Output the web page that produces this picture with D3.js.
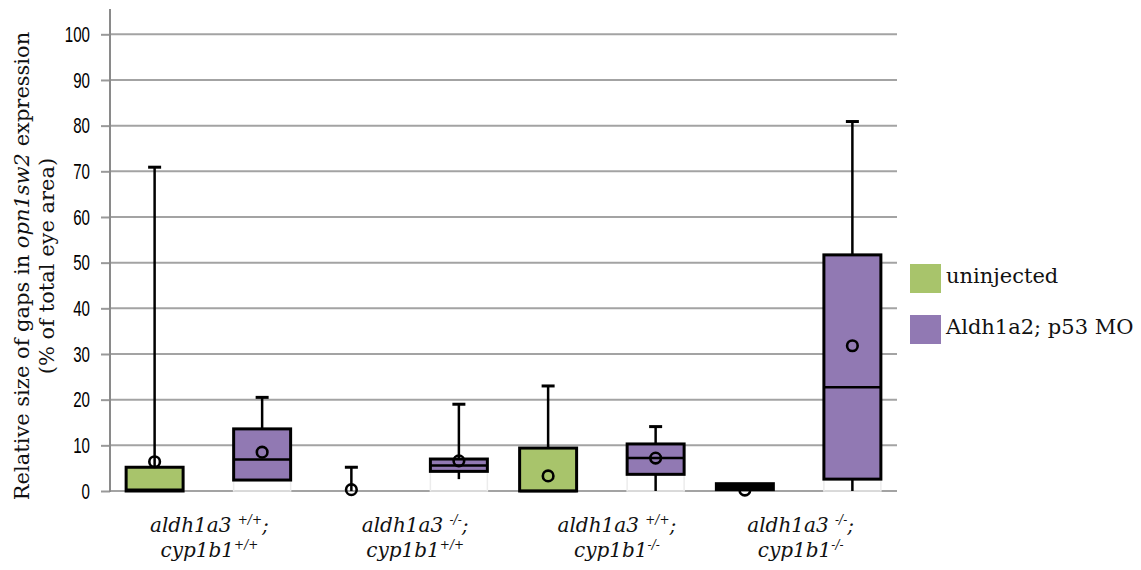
<!DOCTYPE html>
<html><head><meta charset="utf-8">
<script src="https://cdn.jsdelivr.net/npm/d3@7"></script>
<style>body{margin:0;background:#fff}svg{display:block}</style>
</head><body>
<svg id="chart" width="1141" height="570"></svg>
<script>
// ---- data ----
const categories = ["g1", "g2", "g3", "g4"];
const aldh1a3Genotype = ["+/+", "-/-", "+/+", "-/-"];
const cyp1b1Genotype = ["+/+", "+/+", "-/-", "-/-"];
const seriesNames = ["uninjected", "Aldh1a2; p53 MO"];
const yTicks = [0, 10, 20, 30, 40, 50, 60, 70, 80, 90, 100];

const uninjectedQ1 = [0, null, 0, 0.3];
const uninjectedMedian = [0.3, null, 0, 1.0];
const uninjectedQ3 = [5.2, null, 9.4, 1.6];
const uninjectedWhiskerLow = [null, null, null, null];
const uninjectedWhiskerHigh = [70.9, 5.2, 23.0, null];
const uninjectedMean = [6.4, 0.3, 3.3, 0.2];

const moQ1 = [2.4, 4.3, 3.65, 2.6];
const moMedian = [6.9, 5.6, 7.2, 22.7];
const moQ3 = [13.6, 7.0, 10.3, 51.7];
const moWhiskerLow = [null, 2.6, 0, 0];
const moWhiskerHigh = [20.5, 19.0, 14.1, 80.9];
const moMean = [8.5, 6.6, 7.2, 31.8];

// ---- layout ----
const svg = d3.select("#chart");
const colors = ["#a8c46b", "#9179b3"];
const plot = {left: 110, right: 897, top: 34.3, bottom: 491};

const y = d3.scaleLinear().domain([0, 100]).range([plot.bottom, plot.top]);
const x = d3.scaleBand().domain(categories).range([plot.left, plot.right]).paddingInner(0).paddingOuter(0);
const xs = d3.scaleBand().domain(seriesNames).range([0, x.bandwidth()]).paddingInner(0.47).paddingOuter(0.15);

// gridlines
svg.append("g").selectAll("line").data(yTicks).join("line")
  .attr("x1", plot.left).attr("x2", plot.right)
  .attr("y1", d => y(d)).attr("y2", d => y(d))
  .attr("stroke", "#a3a3a3").attr("stroke-width", 2);

// y axis
const yAxis = svg.append("g").attr("transform", `translate(${plot.left},0)`)
  .call(d3.axisLeft(y).tickValues(yTicks).tickSize(9).tickPadding(11));
yAxis.select(".domain").remove();
yAxis.selectAll(".tick line").attr("stroke", "#999").attr("stroke-width", 2);
yAxis.selectAll(".tick text")
  .attr("font-family", "'Liberation Sans', Arial, sans-serif")
  .attr("font-size", 22).attr("fill", "#000")
  .attr("textLength", d => String(d).length * 8.4)
  .attr("lengthAdjust", "spacingAndGlyphs");
svg.append("line").attr("x1", plot.left).attr("x2", plot.left)
  .attr("y1", 9).attr("y2", plot.bottom + 1)
  .attr("stroke", "#8a8a8a").attr("stroke-width", 2);

const series = [
  {name: seriesNames[0], q1: uninjectedQ1, med: uninjectedMedian, q3: uninjectedQ3, lo: uninjectedWhiskerLow, hi: uninjectedWhiskerHigh, mean: uninjectedMean, color: colors[0]},
  {name: seriesNames[1], q1: moQ1, med: moMedian, q3: moQ3, lo: moWhiskerLow, hi: moWhiskerHigh, mean: moMean, color: colors[1]}
];

const boxes = svg.append("g");
series.forEach((s, si) => {
  categories.forEach((c, i) => {
    const bx = x(c) + xs(s.name);
    const bw = xs.bandwidth();
    const cx = bx + bw / 2;
    const g = boxes.append("g");
    // faint base segment (stacked-bar remnant)
    if (s.q1[i] != null && s.q1[i] > 0.5) {
      g.append("rect").attr("x", bx).attr("y", y(s.q1[i])).attr("width", bw)
        .attr("height", y(0) - y(s.q1[i])).attr("fill", "none")
        .attr("stroke", "#ececec").attr("stroke-width", 1.5);
    }
    // whiskers
    const top = s.q3[i] != null ? s.q3[i] : 0;
    if (s.hi[i] != null) {
      g.append("line").attr("x1", cx).attr("x2", cx).attr("y1", y(top)).attr("y2", y(s.hi[i]))
        .attr("stroke", "#000").attr("stroke-width", 2.5);
      g.append("line").attr("x1", cx - 6.5).attr("x2", cx + 6.5).attr("y1", y(s.hi[i])).attr("y2", y(s.hi[i]))
        .attr("stroke", "#000").attr("stroke-width", 3);
    }
    if (s.lo[i] != null && s.q1[i] != null) {
      g.append("line").attr("x1", cx).attr("x2", cx).attr("y1", y(s.q1[i])).attr("y2", y(s.lo[i]))
        .attr("stroke", "#000").attr("stroke-width", 2.5);
    }
    // box
    if (s.q1[i] != null && s.q3[i] != null) {
      g.append("rect").attr("x", bx).attr("y", y(s.q3[i])).attr("width", bw)
        .attr("height", y(s.q1[i]) - y(s.q3[i]))
        .attr("fill", (y(s.q1[i]) - y(s.q3[i])) < 8 ? "#000" : s.color)
        .attr("stroke", "#000").attr("stroke-width", 3);
      g.append("line").attr("x1", bx).attr("x2", bx + bw).attr("y1", y(s.med[i])).attr("y2", y(s.med[i]))
        .attr("stroke", "#000").attr("stroke-width", 2.5);
    }
    // mean
    g.append("circle").attr("cx", cx).attr("cy", y(s.mean[i])).attr("r", 5.3)
      .attr("fill", "none").attr("stroke", "#000").attr("stroke-width", 2.6);
  });
});

// x labels
const serif = "'DejaVu Serif', 'Liberation Serif', serif";
const labelShift = [1, 10, 15, 2];
categories.forEach((c, i) => {
  const cx = x(c) + x.bandwidth() / 2 + labelShift[i];
  const t1 = svg.append("text").attr("x", cx).attr("y", 532).attr("text-anchor", "middle")
    .attr("font-family", serif).attr("font-style", "italic").attr("font-size", 20).attr("fill", "#111");
  t1.append("tspan").text("aldh1a3 ");
  t1.append("tspan").attr("font-size", 12).attr("dy", -8).text(aldh1a3Genotype[i]);
  t1.append("tspan").attr("dy", 8).text(";");
  const t2 = svg.append("text").attr("x", cx).attr("y", 557).attr("text-anchor", "middle")
    .attr("font-family", serif).attr("font-style", "italic").attr("font-size", 20).attr("fill", "#111");
  t2.append("tspan").text("cyp1b1");
  t2.append("tspan").attr("font-size", 12).attr("dy", -8).text(cyp1b1Genotype[i]);
});

// y title
const yt = svg.append("g").attr("transform", "translate(29,266) rotate(-90)");
const l1 = yt.append("text").attr("text-anchor", "middle").attr("y", 0)
  .attr("font-family", serif).attr("font-size", 21).attr("fill", "#111");
l1.append("tspan").text("Relative size of gaps in ");
l1.append("tspan").attr("font-style", "italic").text("opn1sw2");
l1.append("tspan").text(" expression");
yt.append("text").attr("text-anchor", "middle").attr("y", 25)
  .attr("font-family", serif).attr("font-size", 21).attr("fill", "#111")
  .text("(% of total eye area)");

// legend
const leg = svg.append("g").attr("transform", "translate(910,264)");
seriesNames.forEach((n, i) => {
  const gy = i * 51;
  leg.append("rect").attr("x", 0).attr("y", gy).attr("width", 31).attr("height", 29).attr("fill", colors[i]);
  leg.append("text").attr("x", 36).attr("y", gy + 19).attr("font-family", serif).attr("font-size", 21)
    .attr("fill", "#111").text(n);
});
</script>
</body></html>
